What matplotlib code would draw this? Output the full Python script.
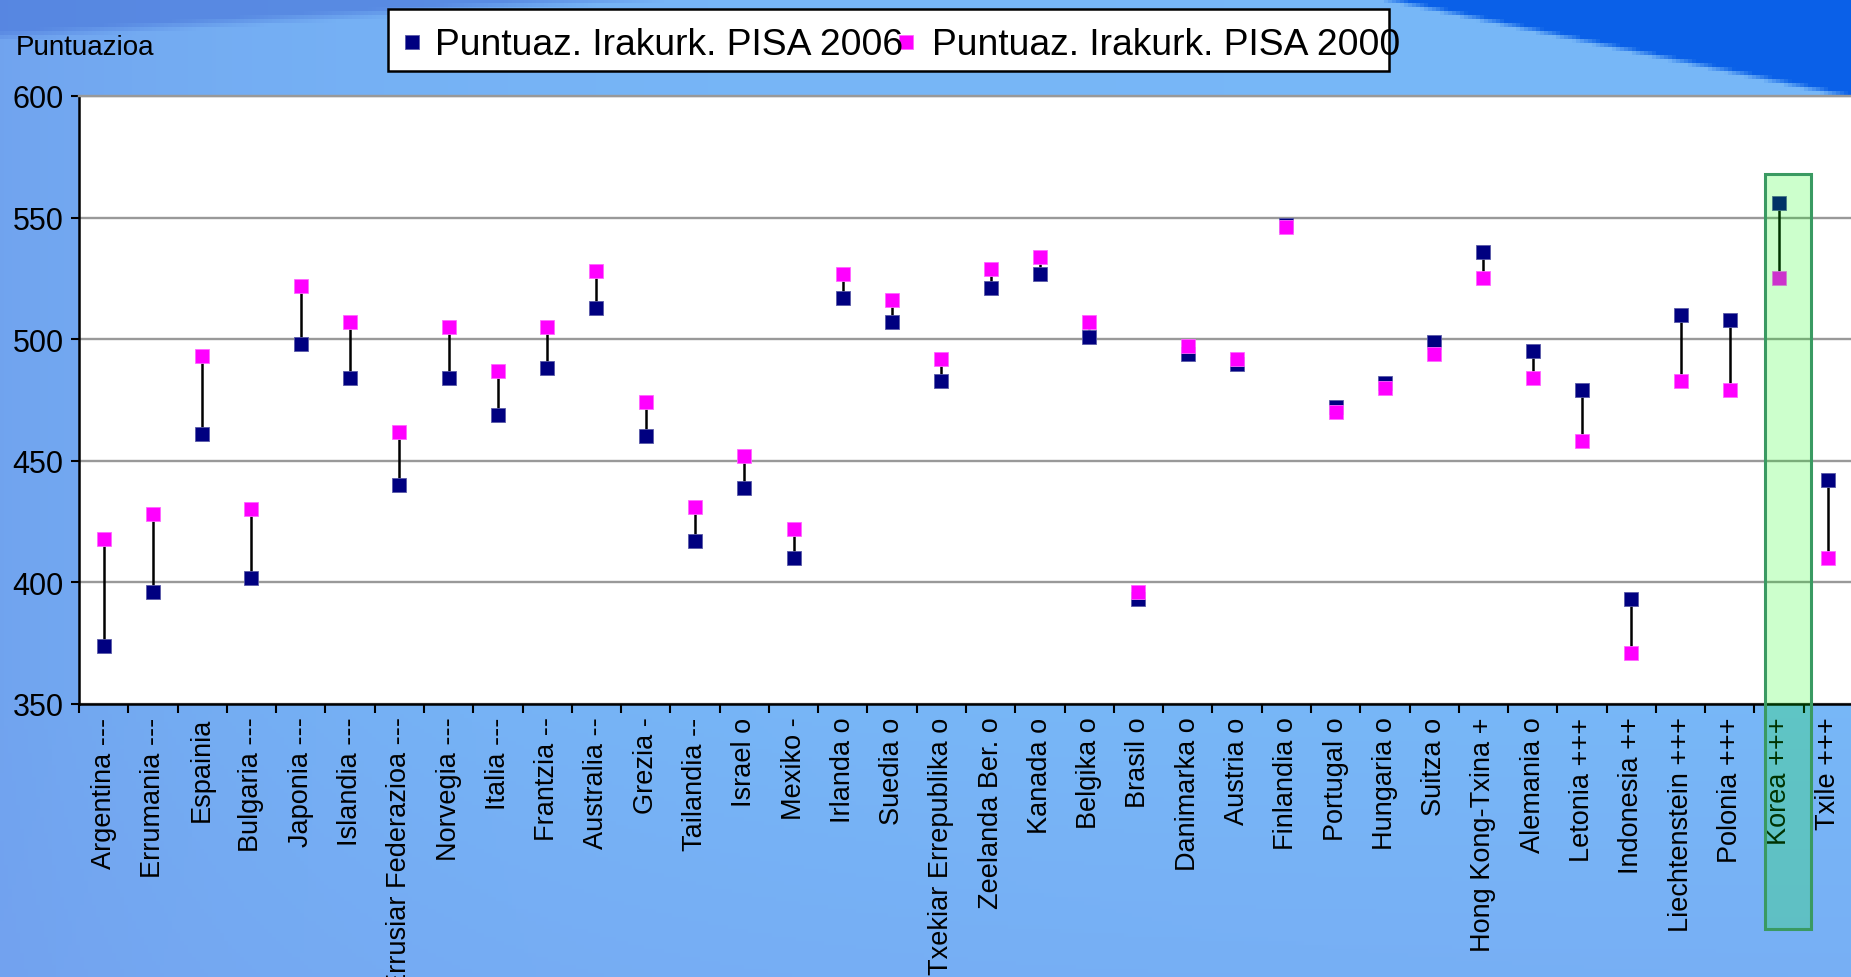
import numpy as np
import matplotlib
matplotlib.use("Agg")
import matplotlib.pyplot as plt
import matplotlib.transforms as mtransforms
from matplotlib.patches import Rectangle
from matplotlib.lines import Line2D

plt.rcParams['font.family'] = ['Liberation Sans', 'DejaVu Sans']

countries = ["Argentina ---", "Errumania ---", "Espainia", "Bulgaria ---", "Japonia ---",
             "Islandia ---", "Errusiar Federazioa ---", "Norvegia ---", "Italia ---",
             "Frantzia --", "Australia --", "Grezia -", "Tailandia --", "Israel o",
             "Mexiko -", "Irlanda o", "Suedia o", "Txekiar Errepublika o",
             "Zeelanda Ber. o", "Kanada o", "Belgika o", "Brasil o", "Danimarka o",
             "Austria o", "Finlandia o", "Portugal o", "Hungaria o", "Suitza o",
             "Hong Kong-Txina +", "Alemania o", "Letonia +++", "Indonesia ++",
             "Liechtenstein +++", "Polonia +++", "Korea +++", "Txile +++"]
pisa2006 = [374, 396, 461, 402, 498, 484, 440, 484, 469, 488, 513, 460, 417, 439, 410, 517,
            507, 483, 521, 527, 501, 393, 494, 490, 547, 472, 482, 499, 536, 495, 479, 393,
            510, 508, 556, 442]
pisa2000 = [418, 428, 493, 430, 522, 507, 462, 505, 487, 505, 528, 474, 431, 452, 422, 527,
            516, 492, 529, 534, 507, 396, 497, 492, 546, 470, 480, 494, 525, 484, 458, 371,
            483, 479, 525, 410]
legend_labels = ["Puntuaz. Irakurk. PISA 2006", "Puntuaz. Irakurk. PISA 2000"]
highlight = "Korea +++"

W, H = 1851, 978
fig = plt.figure(figsize=(W / 100, H / 100), dpi=100)

# background (blue desktop-like gradient)
yy, xx = np.mgrid[0:H:4, 0:W:4].astype(float)
base = np.array([0.47, 0.72, 0.97])
img = np.ones(xx.shape + (3,)) * base
left = np.exp(-xx / 350.0)[..., None] * 0.55
img = img * (1 - left) + np.array([0.42, 0.58, 0.91]) * left
low = np.clip((yy - 700) / 300.0, 0, 1)[..., None] * 0.35
img = img * (1 - low) + np.array([0.46, 0.62, 0.94]) * low
edge = 0.21 * (xx - 1380)
band = np.clip((edge - yy) / 6.0, 0, 1)[..., None]
img = img * (1 - band) + np.array([0.04, 0.38, 0.91]) * band
tl = np.clip((40 - 0.06 * xx - yy) / 10.0, 0, 1)[..., None] * 0.7
img = img * (1 - tl) + np.array([0.30, 0.48, 0.86]) * tl
bg = fig.add_axes([0, 0, 1, 1], zorder=-1)
bg.imshow(img, aspect='auto', extent=[0, W, H, 0])
bg.axis('off')

ax = fig.add_axes([79 / W, 1 - 705 / H, (1853 - 79) / W, 608 / H])
ax.set_facecolor('white')
x = np.arange(len(countries))

ax.vlines(x, pisa2006, pisa2000, color='black', lw=1.8, zorder=3)
ax.plot(x, pisa2006, ls='none', marker='s', ms=9.6, mfc='#000080', mec='#5a5aa8',
        mew=0.6, zorder=4)
ax.plot(x, pisa2000, ls='none', marker='s', ms=9.6, mfc='#ff00ff', mec='#ff66ff',
        mew=0.6, zorder=5)

ax.set_xlim(-0.5, len(countries) - 0.5)
ax.set_ylim(350, 600)
ax.set_yticks(np.arange(350, 601, 50))
ax.tick_params(axis='y', labelsize=22, length=6, width=1.5, pad=5, direction='out')
ax.set_xticks(x)
ax.set_xticklabels(countries, rotation=90, va='top', ha='center', fontsize=19.5)
ax.set_xticks(np.arange(-0.5, len(countries), 1), minor=True)
ax.tick_params(axis='x', which='major', length=0, pad=9)
ax.tick_params(axis='x', which='minor', length=6.5, width=1.5, direction='out')
ax.yaxis.grid(True, color='#999999', lw=1.7)
ax.set_axisbelow(True)
for s in ['left', 'bottom']:
    ax.spines[s].set_linewidth(1.8)
    ax.spines[s].set_color('black')
ax.spines['top'].set_color('#999999')
ax.spines['top'].set_linewidth(1.7)
ax.spines['right'].set_visible(False)

# highlighted country box
k = countries.index(highlight)
trans = mtransforms.blended_transform_factory(ax.transData, ax.transAxes)
ax.add_patch(Rectangle((k - 0.29, -0.37), 0.94, 0.872 + 0.37, transform=trans,
                       facecolor=(0, 1, 0, 0.2), edgecolor='#3a9a62', lw=2.2,
                       clip_on=False, zorder=10))

fig.text(16 / W, 1 - 48 / H, "Puntuazioa", fontsize=20, va='center', ha='left')

# legend
fig.add_artist(Rectangle((388 / W, 1 - 72 / H), 1001 / W, 62 / H, transform=fig.transFigure,
                         facecolor='white', edgecolor='black', lw=1.8))
fig.add_artist(Line2D([412 / W], [1 - 43 / H], transform=fig.transFigure, marker='s',
                      ms=9.4, mfc='#000080', mec='#5a5aa8', mew=0.6, ls='none'))
fig.add_artist(Line2D([906 / W], [1 - 43 / H], transform=fig.transFigure, marker='s',
                      ms=9.4, mfc='#ff00ff', mec='#ff66ff', mew=0.6, ls='none'))
fig.text(435 / W, 1 - 55 / H, legend_labels[0], fontsize=26.8, va='baseline', ha='left')
fig.text(932 / W, 1 - 55 / H, legend_labels[1], fontsize=26.8, va='baseline', ha='left')

fig.savefig("out.png", dpi=100)
